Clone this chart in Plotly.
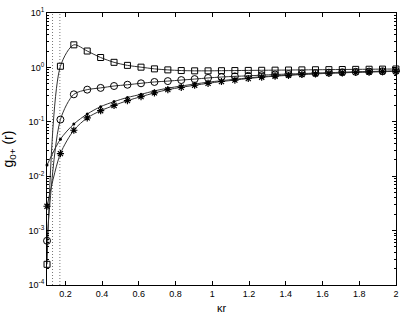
import plotly.graph_objects as go

# kappa*r sample points where the markers sit
kr = [0.100, 0.173, 0.246, 0.319, 0.392, 0.465, 0.538, 0.612, 0.685, 0.758,
      0.831, 0.904, 0.977, 1.050, 1.123, 1.196, 1.269, 1.342, 1.415, 1.488,
      1.562, 1.635, 1.708, 1.781, 1.854, 1.927, 2.000]

g_square = [2.4e-4, 1.05, 2.6, 2.0, 1.52, 1.24, 1.09, 1.01, 0.94, 0.90,
            0.875, 0.865, 0.865, 0.87, 0.875, 0.88, 0.885, 0.89, 0.895, 0.90,
            0.905, 0.91, 0.915, 0.92, 0.925, 0.93, 0.935]

g_circle = [6.5e-4, 0.11, 0.32, 0.39, 0.42, 0.455, 0.48, 0.51, 0.54, 0.56,
            0.585, 0.61, 0.64, 0.665, 0.685, 0.70, 0.72, 0.74, 0.755, 0.77,
            0.785, 0.80, 0.815, 0.83, 0.84, 0.85, 0.86]

g_dot = [0.016, 0.048, 0.091, 0.139, 0.19, 0.235, 0.28, 0.32, 0.37, 0.415,
         0.455, 0.495, 0.535, 0.57, 0.605, 0.64, 0.675, 0.70, 0.725, 0.75,
         0.77, 0.785, 0.80, 0.815, 0.83, 0.84, 0.85]

g_star = [2.8e-3, 0.026, 0.07, 0.118, 0.16, 0.2, 0.245, 0.29, 0.34, 0.39,
          0.43, 0.47, 0.51, 0.55, 0.585, 0.625, 0.66, 0.69, 0.715, 0.74,
          0.76, 0.78, 0.795, 0.81, 0.825, 0.835, 0.845]

# dotted vertical guide lines
guide_x = [0.13, 0.17]

x_ticks = [0.2, 0.4, 0.6, 0.8, 1, 1.2, 1.4, 1.6, 1.8, 2]
x_ticktext = ["0.2", "0.4", "0.6", "0.8", "1", "1.2", "1.4", "1.6", "1.8", "2"]
y_ticks = [1e-4, 1e-3, 1e-2, 1e-1, 1e0, 1e1]
y_ticktext = ["10<sup>-4</sup>", "10<sup>-3</sup>", "10<sup>-2</sup>",
              "10<sup>-1</sup>", "10<sup>0</sup>", "10<sup>1</sup>"]

line_col = "#333333"

fig = go.Figure()

for gx in guide_x:
    fig.add_trace(go.Scatter(
        x=[gx, gx], y=[1e-4, 1e1], mode="lines",
        line=dict(color="#777777", width=1, dash="1px,2px"),
        showlegend=False, hoverinfo="skip"
    ))

series = [
    (g_square, dict(symbol="square-open", size=6, color="black", line=dict(width=1))),
    (g_circle, dict(symbol="circle-open", size=7, color="black", line=dict(width=1))),
    (g_dot, dict(symbol="circle", size=3, color="black")),
    (g_star, dict(symbol="asterisk-open", size=6, color="black", line=dict(width=1.2, color="black"))),
]

for vals, mk in series:
    fig.add_trace(go.Scatter(
        x=kr, y=vals, mode="lines+markers",
        line=dict(color=line_col, width=1, shape="spline", smoothing=0.8),
        marker=mk, cliponaxis=False, showlegend=False
    ))

axis_common = dict(
    showline=True, linecolor="black", linewidth=1, mirror="ticks",
    ticks="inside", ticklen=4, tickcolor="black", showgrid=False, zeroline=False,
    automargin=False,
    tickfont=dict(family="Liberation Sans, Arial, sans-serif", size=9, color="black"),
)

fig.update_xaxes(
    range=[0.0999, 2.0005], tickvals=x_ticks, ticktext=x_ticktext,
    title=dict(text="κr", font=dict(family="Liberation Sans, Arial, sans-serif", size=11, color="black"), standoff=6),
    **axis_common
)
fig.update_yaxes(
    type="log", range=[-4, 1], tickvals=y_ticks, ticktext=y_ticktext,
    minor=dict(ticks="inside", ticklen=2, tickcolor="black", dtick="D1"),
    title=dict(text="g<sub>0+</sub> (r)", font=dict(family="Liberation Sans, Arial, sans-serif", size=14, color="black"), standoff=12),
    **axis_common
)

fig.update_layout(
    width=403, height=316,
    margin=dict(l=47, r=7, t=13, b=31),
    plot_bgcolor="white", paper_bgcolor="white",
    hovermode=False,
)

# page body has a default 8px margin; drop it so the figure fills the window
fig.write_html("out.html", config={"displayModeBar": False},
               post_script="document.body.style.margin='0';")
